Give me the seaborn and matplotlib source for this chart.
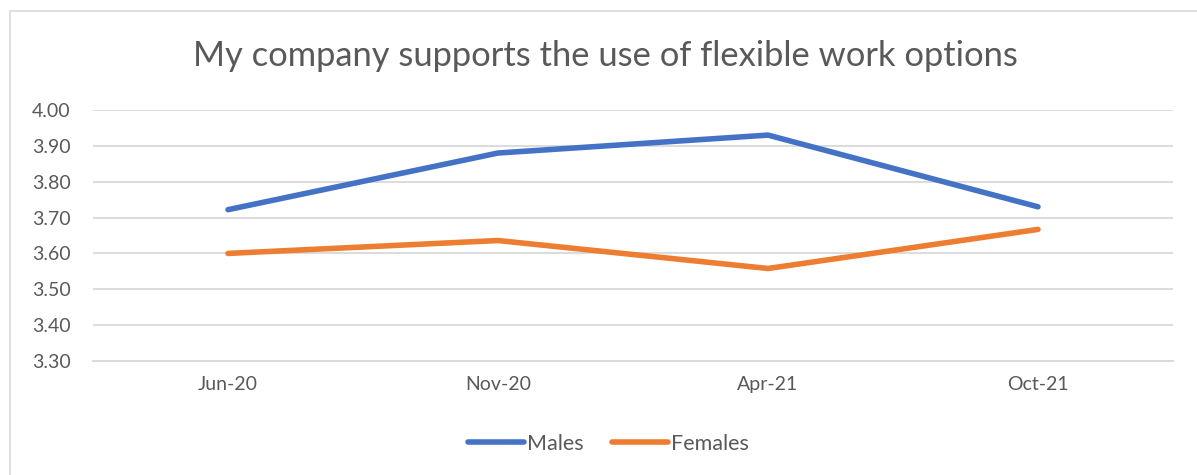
import numpy as np
import pandas as pd
import matplotlib
matplotlib.use("Agg")
import matplotlib.pyplot as plt
from matplotlib.patches import Rectangle
from matplotlib.ticker import FixedLocator, FormatStrFormatter
import seaborn as sns

# chart data
periods = ["Jun-20", "Nov-20", "Apr-21", "Oct-21"]
males = [3.722, 3.880, 3.930, 3.730]
females = [3.600, 3.636, 3.558, 3.667]
series_names = ["Males", "Females"]
title = "My company supports the use of flexible work options"

df = pd.DataFrame({"period": periods * 2,
                   "score": males + females,
                   "group": [series_names[0]] * 4 + [series_names[1]] * 4})

sns.set_theme(style="white")
plt.rcParams["font.family"] = ["Lato", "DejaVu Sans"]
text_grey = "#595959"
grid_grey = "#D9D9D9"
line_colors = ["#4472C4", "#ED7D31"]

fig = plt.figure(figsize=(11.97, 4.75), dpi=100)
ax = fig.add_axes([93 / 1197, 1 - 361 / 475, 1080 / 1197, 251 / 475])

# chart frame (Excel style border)
fig.patches.append(Rectangle((10 / 1197, -0.1), 1.2, 1 - 11 / 475 + 0.1,
                             transform=fig.transFigure, fill=False,
                             edgecolor=grid_grey, linewidth=1.2))

sns.lineplot(data=df, x="period", y="score", hue="group", sort=False,
             palette=line_colors, linewidth=4.0, ax=ax, legend=False)
for ln in ax.lines:
    ln.set_solid_capstyle("round")
    ln.set_solid_joinstyle("round")

ax.set_xlim(-0.5, 3.5)
ax.set_ylim(3.3, 4.0)
ax.set_yticks(np.arange(3.3, 4.001, 0.1))
ax.yaxis.set_major_formatter(FormatStrFormatter("%.2f"))
ax.grid(axis="y", color=grid_grey, linewidth=1.3)
ax.grid(axis="x", visible=False)
ax.set_axisbelow(True)
for side in ["top", "right", "left"]:
    ax.spines[side].set_visible(False)
ax.spines["bottom"].set_color(grid_grey)
ax.spines["bottom"].set_linewidth(1.3)

ax.xaxis.set_minor_locator(FixedLocator(np.arange(-0.5, 3.6, 1)))
ax.tick_params(axis="x", which="major", length=0, pad=11,
               labelsize=14, labelcolor=text_grey)
ax.tick_params(axis="x", which="minor", length=7, width=1.3,
               color=grid_grey, direction="out")
ax.tick_params(axis="y", length=0, pad=16, labelsize=14,
               labelcolor=text_grey)
ax.set_xlabel("")
ax.set_ylabel("")

fig.text(0.506, 1 - 56 / 475, title, ha="center", va="center",
         fontsize=24.8, color=text_grey)

handles = [plt.Line2D([], [], color=c, linewidth=4.0, solid_capstyle="round")
           for c in line_colors]
fig.legend(handles, series_names, loc="center",
           bbox_to_anchor=(0.5085, 1 - 444 / 475), ncol=2, frameon=False,
           fontsize=15.5, labelcolor=text_grey, handlelength=2.6,
           handletextpad=0.15, columnspacing=1.3)

fig.savefig("out.png", dpi=100)
